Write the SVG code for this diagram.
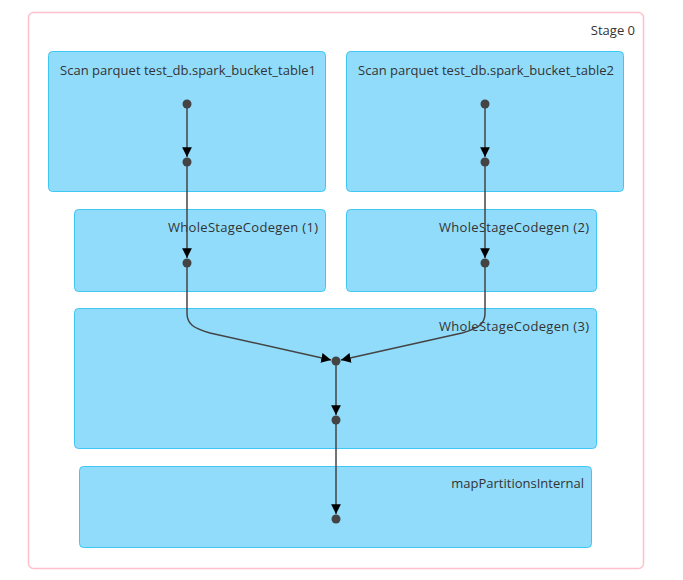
<svg xmlns="http://www.w3.org/2000/svg" width="683" height="580" viewBox="0 0 683 580">
<style>
.cluster{fill:#91dcfb;stroke:#3ec6f5;stroke-width:1}
.stage{fill:#ffffff;stroke:#ffc0cb;stroke-width:1.5}
.lbl{font-family:"Open Sans","Noto Sans",sans-serif;font-size:13px;fill:#333333}
.dot{fill:#444444}
.edge{fill:none;stroke:#444444;stroke-width:1.5}
</style>
<defs>
<marker id="arr" viewBox="0 0 10 10" refX="10" refY="5" markerWidth="6.5" markerHeight="6.5" markerUnits="strokeWidth" orient="auto">
<path d="M0,0 L10,5 L0,10 z" fill="#000000"/>
</marker>
</defs>
<rect width="683" height="580" fill="#ffffff"/>
<g id="stage0">
<rect class="stage" x="28.5" y="12.5" width="615" height="556" rx="5"/>
<text class="lbl" x="635" y="35" text-anchor="end">Stage 0</text>
</g>
<g id="scan1">
<rect class="cluster" x="48.5" y="51.5" width="277" height="140" rx="4"/>
<text class="lbl" x="188" y="75" text-anchor="middle" textLength="256">Scan parquet test_db.spark_bucket_table1</text>
</g>
<g id="scan2">
<rect class="cluster" x="346.5" y="51.5" width="277" height="140" rx="4"/>
<text class="lbl" x="486" y="75" text-anchor="middle" textLength="256">Scan parquet test_db.spark_bucket_table2</text>
</g>
<g id="wsc1">
<rect class="cluster" x="74.5" y="209.5" width="251" height="82" rx="4"/>
<text class="lbl" x="318" y="232" text-anchor="end" textLength="150">WholeStageCodegen (1)</text>
</g>
<g id="wsc2">
<rect class="cluster" x="346.5" y="209.5" width="250" height="82" rx="4"/>
<text class="lbl" x="589" y="232" text-anchor="end" textLength="150">WholeStageCodegen (2)</text>
</g>
<g id="wsc3">
<rect class="cluster" x="74.5" y="308.5" width="522" height="140" rx="4"/>
<text class="lbl" x="589" y="331" text-anchor="end" textLength="150">WholeStageCodegen (3)</text>
</g>
<g id="mappart">
<rect class="cluster" x="79.5" y="466.5" width="512" height="81" rx="4"/>
<text class="lbl" x="584" y="488" text-anchor="end">mapPartitionsInternal</text>
</g>
<g id="edges">
<path class="edge" d="M187,104 L187,157" marker-end="url(#arr)"/>
<path class="edge" d="M187,162 L187,258" marker-end="url(#arr)"/>
<path class="edge" d="M485,104 L485,157" marker-end="url(#arr)"/>
<path class="edge" d="M485,162 L485,258" marker-end="url(#arr)"/>
<path class="edge" d="M187,263 L187,313 C187,324 193,328 210,333 L331,360" marker-end="url(#arr)"/>
<path class="edge" d="M485,263 L485,313 C485,324 479,328 462,333 L341,360" marker-end="url(#arr)"/>
<path class="edge" d="M336,361 L336,415" marker-end="url(#arr)"/>
<path class="edge" d="M336,420 L336,514" marker-end="url(#arr)"/>
</g>
<g id="n1"><circle class="dot" cx="187" cy="104" r="4.5"/></g>
<g id="n2"><circle class="dot" cx="187" cy="162" r="4.5"/></g>
<g id="n3"><circle class="dot" cx="187" cy="263" r="4.5"/></g>
<g id="n4"><circle class="dot" cx="485" cy="104" r="4.5"/></g>
<g id="n5"><circle class="dot" cx="485" cy="162" r="4.5"/></g>
<g id="n6"><circle class="dot" cx="485" cy="263" r="4.5"/></g>
<g id="n7"><circle class="dot" cx="336" cy="361" r="4.5"/></g>
<g id="n8"><circle class="dot" cx="336" cy="420" r="4.5"/></g>
<g id="n9"><circle class="dot" cx="336" cy="519" r="4.5"/></g>
</svg>
